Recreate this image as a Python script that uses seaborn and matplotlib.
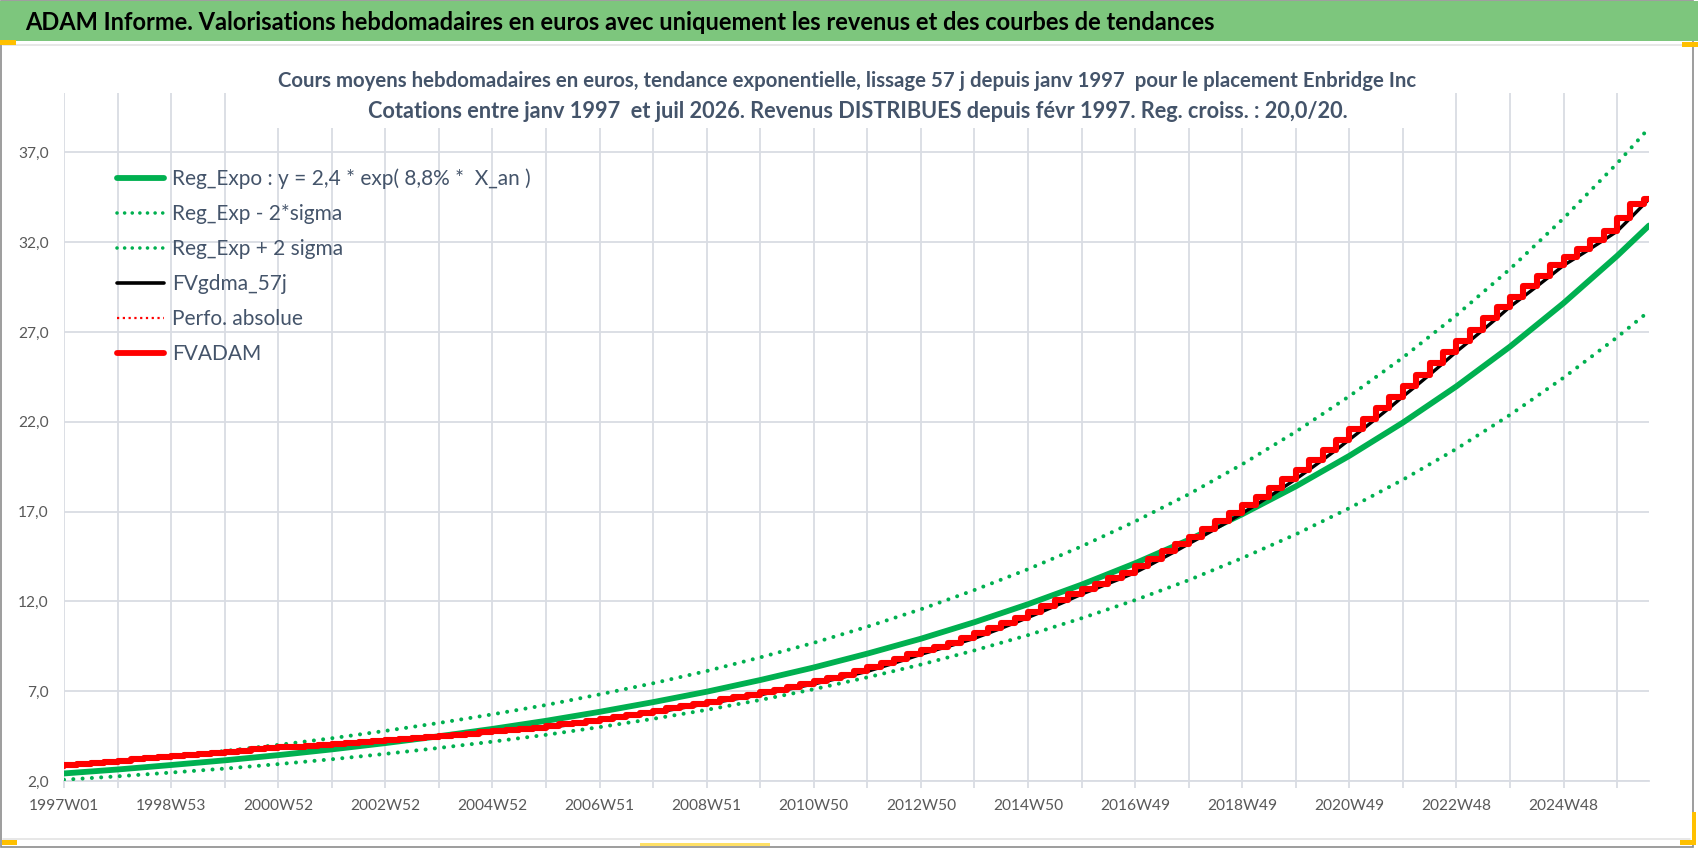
import matplotlib

matplotlib.use("Agg")
import matplotlib.pyplot as plt
import numpy as np
import pandas as pd
import seaborn as sns
from matplotlib.lines import Line2D
from matplotlib.patches import Rectangle

# weekly axis: 1997W01 .. 2026W27
n_weeks = 1540
label_step = 104
grid_step = 52
quarter_step = 13
week_labels = [
    "1997W01", "1998W53", "2000W52", "2002W52", "2004W52", "2006W51",
    "2008W51", "2010W50", "2012W50", "2014W50", "2016W49", "2018W49",
    "2020W49", "2022W48", "2024W48",
]
y_ticks = [2, 7, 12, 17, 22, 27, 32, 37]

# trend curves, one value every 52 weeks plus the last week
reg_expo = [
    2.42, 2.64, 2.89, 3.15, 3.44, 3.76, 4.11, 4.49, 4.90, 5.35, 5.85,
    6.39, 6.97, 7.62, 8.32, 9.09, 9.92, 10.84, 11.84, 12.93, 14.12,
    15.42, 16.85, 18.40, 20.10, 21.95, 23.97, 26.18, 28.60, 31.23, 32.92,
]
reg_low = [
    2.07, 2.26, 2.47, 2.69, 2.94, 3.21, 3.51, 3.84, 4.19, 4.57, 5.00,
    5.46, 5.96, 6.51, 7.11, 7.77, 8.48, 9.27, 10.12, 11.06, 12.07,
    13.18, 14.41, 15.73, 17.19, 18.77, 20.49, 22.38, 24.45, 26.70, 28.15,
]
reg_high = [
    2.82, 3.08, 3.37, 3.67, 4.01, 4.38, 4.79, 5.23, 5.71, 6.23, 6.82,
    7.44, 8.12, 8.88, 9.69, 10.59, 11.56, 12.63, 13.79, 15.06, 16.45,
    17.96, 19.63, 21.44, 23.42, 25.57, 27.93, 30.50, 33.32, 36.38, 38.35,
]

# FVADAM, one value per quarter (13 weeks) plus the last week
fvadam = [
    2.85, 2.90, 2.96, 3.01, 3.07, 3.13, 3.20, 3.26, 3.33, 3.38, 3.44, 3.49,
    3.55, 3.62, 3.69, 3.76, 3.83, 3.87, 3.91, 3.96, 4.00, 4.05, 4.10, 4.15,
    4.20, 4.26, 4.32, 4.38, 4.44, 4.50, 4.57, 4.63, 4.70, 4.76, 4.83, 4.89,
    4.96, 5.06, 5.15, 5.25, 5.35, 5.46, 5.57, 5.68, 5.80, 5.92, 6.05, 6.17,
    6.30, 6.42, 6.55, 6.67, 6.80, 6.95, 7.09, 7.25, 7.40, 7.57, 7.74, 7.92,
    8.10, 8.33, 8.56, 8.80, 9.05, 9.27, 9.48, 9.71, 9.94, 10.22, 10.50, 10.80,
    11.10, 11.41, 11.73, 12.06, 12.40, 12.69, 12.99, 13.29, 13.60, 13.98, 14.38, 14.78,
    15.20, 15.61, 16.03, 16.46, 16.90, 17.36, 17.83, 18.31, 18.80, 19.33, 19.87, 20.42,
    21.00, 21.58, 22.17, 22.77, 23.40, 24.00, 24.62, 25.25, 25.90, 26.50, 27.12, 27.75,
    28.40, 28.96, 29.53, 30.11, 30.70, 31.16, 31.63, 32.11, 32.60, 33.34, 34.10, 34.40,
]

title = ("ADAM Informe. Valorisations hebdomadaires en euros avec uniquement "
         "les revenus et des courbes de tendances")
subtitle_1 = ("Cours moyens hebdomadaires en euros, tendance exponentielle, "
              "lissage 57 j depuis janv 1997  pour le placement Enbridge Inc")
subtitle_2 = ("Cotations entre janv 1997  et juil 2026. Revenus DISTRIBUES "
              "depuis févr 1997. Reg. croiss. : 20,0/20.")
legend_labels = [
    "Reg_Expo : y = 2,4 * exp( 8,8% *  X_an )",
    "Reg_Exp - 2*sigma",
    "Reg_Exp + 2 sigma",
    "FVgdma_57j",
    "Perfo. absolue",
    "FVADAM",
]

year_weeks = list(range(0, n_weeks, grid_step)) + [n_weeks - 1]
quarter_weeks = list(range(0, n_weeks, quarter_step)) + [n_weeks - 1]
trend = pd.DataFrame({"week": year_weeks, "expo": reg_expo, "low": reg_low, "high": reg_high})
adam = pd.DataFrame({"week": quarter_weeks, "fvadam": fvadam})

GREEN = "#00B050"
RED = "#FF0000"
GRID = "#D9DCE3"
TEXT = "#44546A"
TICK = "#595959"

sns.set_theme(style="white")
plt.rcParams["font.family"] = ["Lato", "DejaVu Sans"]

W, H = 1698, 848
fig = plt.figure(figsize=(W / 100, H / 100), dpi=100)
fig.patch.set_facecolor("white")
renderer = fig.canvas.get_renderer()


def text_box(s, size, weight="normal"):
    t = fig.text(0, 0, s, fontsize=size, fontweight=weight)
    bb = t.get_window_extent(renderer=renderer)
    t.remove()
    return bb.width, bb.height


def fit_size(s, width_px, weight="normal"):
    # font size that makes the string about width_px wide
    size = 14.0
    for _ in range(3):
        size *= width_px / text_box(s, size, weight)[0]
    return size


def px_rect(x, y, w, h, color, **kw):
    r = Rectangle((x / W, 1 - (y + h) / H), w / W, h / H, transform=fig.transFigure,
                  facecolor=color, edgecolor="none", **kw)
    fig.add_artist(r)
    return r


ax = fig.add_axes([64 / W, 1 - 781 / H, (1649 - 64) / W, (781 - 93) / H])
ax.set_facecolor("white")

dots = (0, (0.01, 2.3))
sns.lineplot(data=trend, x="week", y="low", ax=ax, color=GREEN, lw=2.9,
             linestyle=dots, dash_capstyle="round", zorder=3)
sns.lineplot(data=trend, x="week", y="high", ax=ax, color=GREEN, lw=2.9,
             linestyle=dots, dash_capstyle="round", zorder=3)
sns.lineplot(data=trend, x="week", y="expo", ax=ax, color=GREEN, lw=4.2, zorder=4)
sns.lineplot(data=adam, x="week", y="fvadam", ax=ax, color="black", lw=2.4, zorder=5)
sns.lineplot(data=adam, x="week", y="fvadam", ax=ax, color=RED, lw=4.4,
             drawstyle="steps-pre", zorder=6)

tick_size = fit_size("1997W01", 64) * 1.1
ax.set_xlim(0, n_weeks - 1)
ax.set_ylim(2, 40.3)
ax.set_xticks(range(0, n_weeks, label_step))
ax.set_xticklabels(week_labels)
ax.set_xticks(range(0, n_weeks, grid_step), minor=True)
ax.set_yticks(y_ticks)
ax.set_yticklabels([f"{v:.1f}".replace(".", ",") for v in y_ticks])
ax.grid(True, which="both", axis="x", color=GRID, lw=1.3)
ax.grid(True, which="major", axis="y", color=GRID, lw=1.3)
ax.tick_params(axis="x", which="both", length=5, width=1.3, color=GRID, pad=8,
               labelsize=tick_size, labelcolor=TICK, bottom=True)
ax.tick_params(axis="y", length=0, pad=11, labelsize=tick_size, labelcolor=TICK)
ax.set_xlabel("")
ax.set_ylabel("")
for side in ["top", "right", "left"]:
    ax.spines[side].set_visible(False)
ax.spines["bottom"].set_color(GRID)
ax.spines["bottom"].set_linewidth(1.3)

handles = [
    Line2D([], [], color=GREEN, lw=4.2),
    Line2D([], [], color=GREEN, lw=2.6, linestyle=(0, (0.01, 2.1)), dash_capstyle="round"),
    Line2D([], [], color=GREEN, lw=2.6, linestyle=(0, (0.01, 2.1)), dash_capstyle="round"),
    Line2D([], [], color="black", lw=2.6),
    Line2D([], [], color=RED, lw=1.6, linestyle=(0, (1, 1.6))),
    Line2D([], [], color=RED, lw=4.2),
]
leg_size = fit_size(legend_labels[0], 351) * 1.03
leg_px = leg_size * 100 / 72
row_h = text_box(legend_labels[0], leg_size)[1]
row_pitch = 35.6
leg_top = 179 - row_h / 2
leg = ax.legend(handles, legend_labels, loc="upper left",
                bbox_to_anchor=((117 - 64) / (1649 - 64), (781 - leg_top) / (781 - 93)),
                frameon=False, fontsize=leg_size, handlelength=47 / leg_px,
                handletextpad=8 / leg_px, labelspacing=(row_pitch - row_h) / leg_px,
                borderpad=0, borderaxespad=0, labelcolor=TEXT)
leg.set_zorder(7)

# frame, title bar, selection marks
fig.add_artist(Rectangle((1 / W, 1 / H), 1692 / W, (H - 2) / H, transform=fig.transFigure,
                         facecolor="none", edgecolor="#8C8C8C", lw=1.2, zorder=0))
fig.add_artist(Line2D([3 / W, 1690 / W], [1 - 45 / H, 1 - 45 / H], transform=fig.transFigure,
                      color="#E3E3E3", lw=1.2))
fig.add_artist(Line2D([3 / W, 1690 / W], [1 - 839 / H, 1 - 839 / H], transform=fig.transFigure,
                      color="#E3E3E3", lw=1.2))
px_rect(0, 1, W, 40, "#7DC67D", zorder=2)
px_rect(0, 40, 16, 5, "#FFC000", zorder=3)
px_rect(1682, 42, 16, 5, "#FFC000", zorder=3)
px_rect(2, 840, 15, 5, "#FFC000", zorder=3)
px_rect(1692, 812, 4, 33, "#FFC000", zorder=3)
px_rect(1680, 840, 16, 5, "#FFC000", zorder=3)
px_rect(640, 843, 130, 3, "#FFE066", zorder=3)

# white box behind the subtitle, covering the gridlines
px_rect(250, 52, 1172, 76, "white", zorder=2)

sub_size = fit_size(subtitle_1, 1135, "bold")
fig.text(25 / W, 1 - 22 / H, title, ha="left", va="center",
         fontsize=fit_size(title, 1186, "bold"), fontweight="bold", color="black", zorder=4)
fig.text(847 / W, 1 - 81 / H, subtitle_1, ha="center", va="center",
         fontsize=sub_size, fontweight="bold", color=TEXT, zorder=4)
fig.text(858 / W, 1 - 112 / H, subtitle_2, ha="center", va="center",
         fontsize=sub_size * 1.07, fontweight="bold", color=TEXT, zorder=4)

fig.savefig("out.png", dpi=100)
